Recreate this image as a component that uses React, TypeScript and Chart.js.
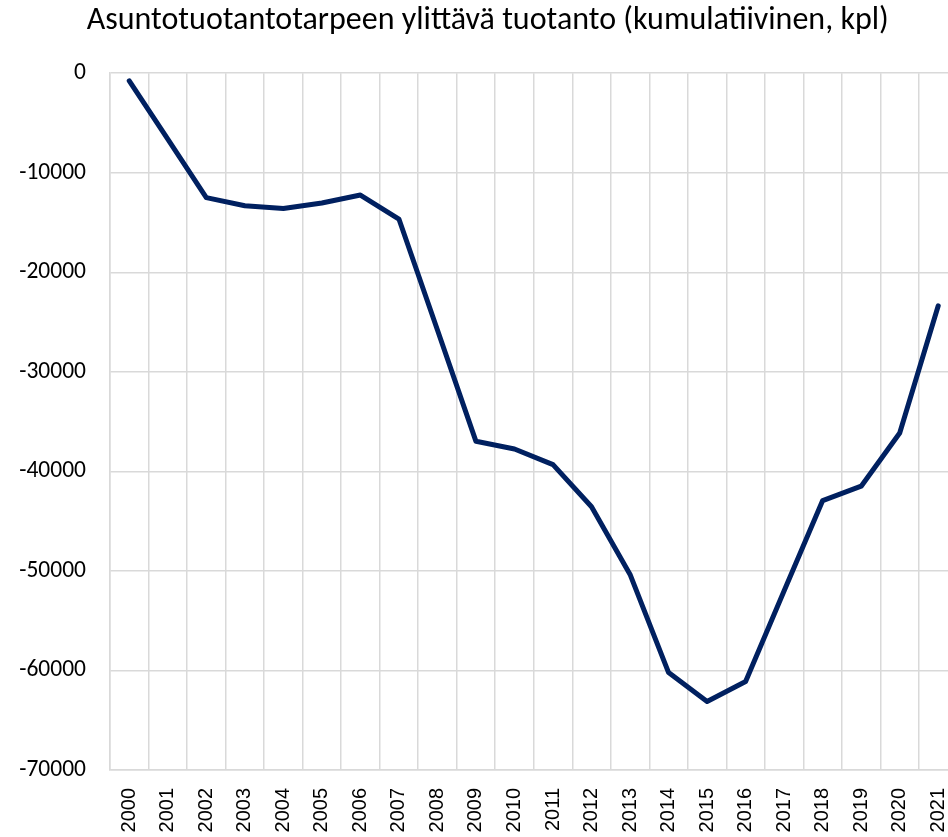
import React, { useEffect, useRef } from "react";
import { Chart, registerables } from "chart.js";

Chart.register(...registerables);

const title = "Asuntotuotantotarpeen ylittävä tuotanto (kumulatiivinen, kpl)";

const years = [
  "2000", "2001", "2002", "2003", "2004", "2005", "2006", "2007", "2008", "2009", "2010",
  "2011", "2012", "2013", "2014", "2015", "2016", "2017", "2018", "2019", "2020", "2021",
];

const cumulativeSurplus = [
  -770, -6630, -12500, -13320, -13600, -13040, -12240, -14650, -25800, -36980, -37750,
  -39320, -43560, -50350, -60210, -63120, -61110, -52000, -42930, -41490, -36140, -23370,
];

const yMin = -70000;
const yMax = 0;
const yStep = 10000;

const FONT = "'Carlito', 'Liberation Sans', Arial, sans-serif";
const XFONT = "'Liberation Sans', Arial, sans-serif";
const GRID = "#d9d9d9";

export default function App() {
  const canvasRef = useRef<HTMLCanvasElement | null>(null);

  useEffect(() => {
    const canvas = canvasRef.current;
    if (!canvas) return;
    const chart = new Chart(canvas, {
      type: "line",
      data: {
        labels: years,
        datasets: [
          {
            data: cumulativeSurplus,
            borderColor: "#002060",
            borderWidth: 5,
            pointRadius: 0,
            pointHoverRadius: 0,
            tension: 0,
            borderCapStyle: "round",
            borderJoinStyle: "round",
            fill: false,
          },
        ],
      },
      options: {
        responsive: false,
        animation: false,
        devicePixelRatio: 1,
        layout: { padding: { left: 18, top: 0, bottom: 0, right: 18.5 } },
        plugins: {
          legend: { display: false },
          tooltip: { enabled: false },
          title: {
            display: true,
            text: title,
            color: "#000",
            font: { family: FONT, size: 32, weight: "normal", lineHeight: 1.2 },
            padding: { top: 2, bottom: 32.8 },
          },
        },
        scales: {
          x: {
            offset: true,
            grid: { offset: true, color: GRID, lineWidth: 1.5, drawTicks: false },
            border: { color: GRID, width: 1.5 },
            ticks: {
              autoSkip: false,
              minRotation: 90,
              maxRotation: 90,
              padding: 18,
              color: "#000",
              font: { family: XFONT, size: 20 },
            },
            afterFit: (scale: any) => {
              scale.height = 67;
              scale.paddingLeft = 0;
              scale.paddingRight = 0;
            },
          },
          y: {
            min: yMin,
            max: yMax,
            grid: { color: GRID, lineWidth: 1.5, drawTicks: false },
            border: { color: GRID, width: 1.5 },
            ticks: {
              stepSize: yStep,
              padding: 24,
              color: "#000",
              font: { family: FONT, size: 23.5 },
              callback: (v: any) => String(v),
            },
            afterFit: (scale: any) => {
              scale.width = 92;
            },
          },
        },
      },
    });
    return () => chart.destroy();
  }, []);

  return (
    <div
      style={{
        position: "fixed",
        left: 0,
        top: 0,
        width: 948,
        height: 837,
        overflow: "hidden",
        background: "#fff",
      }}
    >
      <canvas ref={canvasRef} width={976} height={837} style={{ display: "block" }} />
    </div>
  );
}
